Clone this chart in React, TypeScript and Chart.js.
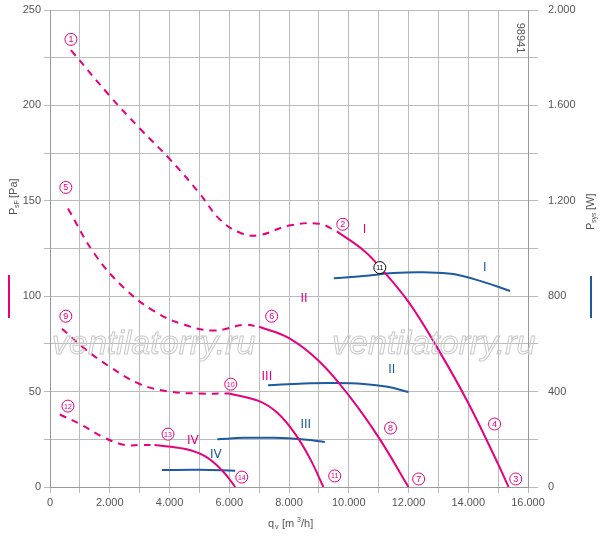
import React, { useEffect, useRef } from "react";
import { Chart, registerables } from "chart.js";
Chart.register(...registerables);

const PINK = "#e6007e";
const BLUE = "#1d5aa0";

const dash1 = [[700,229],[2000,205],[3000,188],[4000,172],[5000,154],[5700,140],[6400,133],[7000,132],[8000,137],[9000,138],[9600,134]];
const solid1 = [[9600,134],[10500,124],[11000,116],[12000,97],[13000,72],[14000,44],[15000,12],[15350,0]];
const dash2 = [[600,146],[1500,122],[2500,104],[3500,92],[4500,85],[5500,82],[6500,85],[7000,84]];
const solid2 = [[7000,84],[8000,78],[9000,66],[10000,48],[11000,26],[12000,0]];
const dash3 = [[400,83],[1200,72],[2000,63],[3000,54],[4000,50],[5000,49],[6000,49]];
const solid3 = [[6000,49],[7000,45],[7600,39],[8200,28],[8700,15],[9150,0]];
const dash4 = [[330,38],[1000,33],[1800,26],[2500,22],[3000,22],[3500,22]];
const solid4 = [[3500,22],[4500,20],[5200,16],[5800,8],[6200,0]];
const pow1 = [[9500,875],[10500,885],[11500,897],[12500,900],[13500,893],[14500,860],[15400,822]];
const pow2 = [[7300,427],[8500,434],[9500,436],[10500,432],[11300,420],[12000,398]];
const pow3 = [[5600,200],[6500,206],[7500,206],[8500,199],[9200,189]];
const pow4 = [[3750,71],[5000,72],[6200,68]];

const circled: [string, number, number, string][] = [
  ["1",700,234.6,PINK],["5",530,157,PINK],["9",530,89.5,PINK],["12",600,42.4,PINK],
  ["2",9800,137.7,PINK],["6",7420,89.5,PINK],["10",6050,53.9,PINK],["13",3950,27.7,PINK],
  ["11",11040,115,"#000"],["8",11400,30.9,PINK],["7",12340,4.2,PINK],["4",14880,33,PINK],
  ["3",15590,4.2,PINK],["11",9530,5.8,PINK],["14",6420,5.2,PINK],
];
const romanPink: [string, number, number][] = [["I",10530,135],["II",8500,98.4],["III",7260,57.6],["IV",4780,24]];
const romanBlue: [string, number, number][] = [["I",14550,115],["II",11440,61.3],["III",8560,32.5],["IV",5550,16.8]];

const pts = (a: number[][]) => a.map(([x, y]) => ({ x, y }));
const fmt = (v: number) => String(v).replace(/\B(?=(\d{3})+(?!\d))/g, ".");

export default function App() {
  const ref = useRef<HTMLCanvasElement>(null);
  useEffect(() => {
    const ds = (d: number[][], color: string, dashed: boolean, axis = "y") => ({
      data: pts(d), borderColor: color, borderWidth: 2, pointRadius: 0, tension: 0.4,
      borderDash: dashed ? [7, 6] : [], yAxisID: axis, fill: false,
    });
    const deco = {
      id: "deco",
      afterDatasetsDraw(c: any) {
        const ctx = c.ctx; const xs = c.scales.x, ys = c.scales.y; const a = c.chartArea;
        ctx.save();
        ctx.font = "italic 34px 'Liberation Sans'";
        ctx.strokeStyle = "#c8c8c8"; ctx.lineWidth = 1; ctx.textBaseline = "middle"; ctx.textAlign = "left";
        ctx.strokeText("ventilatorry.ru", 52, 345);
        ctx.strokeText("ventilatorry.ru", 332, 345);
        for (const [t, x, y, col] of circled) {
          const px = xs.getPixelForValue(x), py = ys.getPixelForValue(y);
          ctx.fillStyle = "#fff"; ctx.beginPath(); ctx.arc(px, py, 6, 0, Math.PI * 2); ctx.fill();
          ctx.strokeStyle = col; ctx.lineWidth = 1; ctx.stroke();
          ctx.fillStyle = col; ctx.textAlign = "center";
          ctx.font = (t.length > 1 ? "7px" : "9px") + " 'Liberation Sans'";
          ctx.fillText(t, px, py + 0.5);
        }
        ctx.font = "12px 'DejaVu Sans'";
        for (const [t, x, y] of romanPink) { ctx.fillStyle = PINK; ctx.fillText(t, xs.getPixelForValue(x), ys.getPixelForValue(y)); }
        for (const [t, x, y] of romanBlue) { ctx.fillStyle = BLUE; ctx.fillText(t, xs.getPixelForValue(x), ys.getPixelForValue(y)); }
        ctx.fillStyle = "#555"; ctx.font = "11px 'Liberation Sans'";
        ctx.save(); ctx.translate(a.right - 8, a.top + 28); ctx.rotate(Math.PI / 2); ctx.fillText("98941", 0, 0); ctx.restore();
        ctx.save(); ctx.translate(14, 215); ctx.rotate(-Math.PI / 2);
        ctx.textAlign = "left"; ctx.font = "11px 'Liberation Sans'"; ctx.fillText("P", 0, 0);
        ctx.font = "7px 'Liberation Sans'"; ctx.fillText("sF", 7, 3);
        ctx.font = "11px 'Liberation Sans'"; ctx.fillText(" [Pa]", 14, 0); ctx.restore();
        ctx.strokeStyle = PINK; ctx.lineWidth = 2; ctx.beginPath(); ctx.moveTo(9, 275); ctx.lineTo(9, 318); ctx.stroke();
        ctx.save(); ctx.translate(591, 230); ctx.rotate(-Math.PI / 2);
        ctx.textAlign = "left"; ctx.font = "11px 'Liberation Sans'"; ctx.fillText("P", 0, 0);
        ctx.font = "7px 'Liberation Sans'"; ctx.fillText("sys", 7, 3);
        ctx.font = "11px 'Liberation Sans'"; ctx.fillText(" [W]", 17, 0); ctx.restore();
        ctx.strokeStyle = BLUE; ctx.beginPath(); ctx.moveTo(591, 276); ctx.lineTo(591, 318); ctx.stroke();
        ctx.textAlign = "left"; ctx.font = "11px 'Liberation Sans'"; ctx.fillText("q", 268, 524);
        ctx.font = "7px 'Liberation Sans'"; ctx.fillText("v", 275, 527);
        ctx.font = "11px 'Liberation Sans'"; ctx.fillText(" [m", 279, 524);
        ctx.font = "7px 'Liberation Sans'"; ctx.fillText("3", 297, 520);
        ctx.font = "11px 'Liberation Sans'"; ctx.fillText("/h]", 301, 524);
        ctx.restore();
      },
    };
    const chart = new Chart(ref.current!, {
      type: "line",
      data: {
        datasets: [
          ds(dash1, PINK, true), ds(solid1, PINK, false), ds(dash2, PINK, true), ds(solid2, PINK, false),
          ds(dash3, PINK, true), ds(solid3, PINK, false), ds(dash4, PINK, true), ds(solid4, PINK, false),
          ds(pow1, BLUE, false, "y1"), ds(pow2, BLUE, false, "y1"), ds(pow3, BLUE, false, "y1"), ds(pow4, BLUE, false, "y1"),
        ] as any,
      },
      options: {
        animation: false, responsive: false, maintainAspectRatio: false,
        layout: { padding: { top: 10 } },
        plugins: { legend: { display: false }, tooltip: { enabled: false } },
        scales: {
          x: {
            type: "linear", min: 0, max: 16000,
            ticks: { stepSize: 1000, autoSkip: false, maxRotation: 0, color: "#555", font: { size: 11, family: "Liberation Sans" },
              callback: (v: any) => (v % 2000 === 0 ? fmt(v) : "") },
            grid: { color: "#bbb", lineWidth: 1, tickLength: 6 },
            border: { color: "#999" },
            afterFit: (s: any) => { s.height = 50; s.paddingLeft = 0; s.paddingRight = 0; },
          },
          y: {
            min: 0, max: 250, position: "left",
            ticks: { stepSize: 25, autoSkip: false, color: "#555", font: { size: 11, family: "Liberation Sans" },
              callback: (v: any) => (v % 50 === 0 ? String(v) : "") },
            grid: { color: "#bbb", tickLength: 6 },
            border: { color: "#999" },
            afterFit: (s: any) => { s.width = 50; s.paddingTop = 0; s.paddingBottom = 0; },
          },
          y1: {
            min: 0, max: 2000, position: "right",
            ticks: { stepSize: 200, autoSkip: false, padding: 10, color: "#555", font: { size: 11, family: "Liberation Sans" },
              callback: (v: any) => (v % 400 === 0 ? fmt(v) : "") },
            grid: { drawOnChartArea: false, tickLength: 10, color: "#bbb" },
            border: { color: "#999" },
            afterFit: (s: any) => { s.width = 72; s.paddingTop = 0; s.paddingBottom = 0; },
          },
        },
      },
      plugins: [deco],
    } as any);
    return () => chart.destroy();
  }, []);
  return <canvas ref={ref} width={600} height={537} style={{ position: "absolute", left: 0, top: 0, background: "#fff" }} />;
}
